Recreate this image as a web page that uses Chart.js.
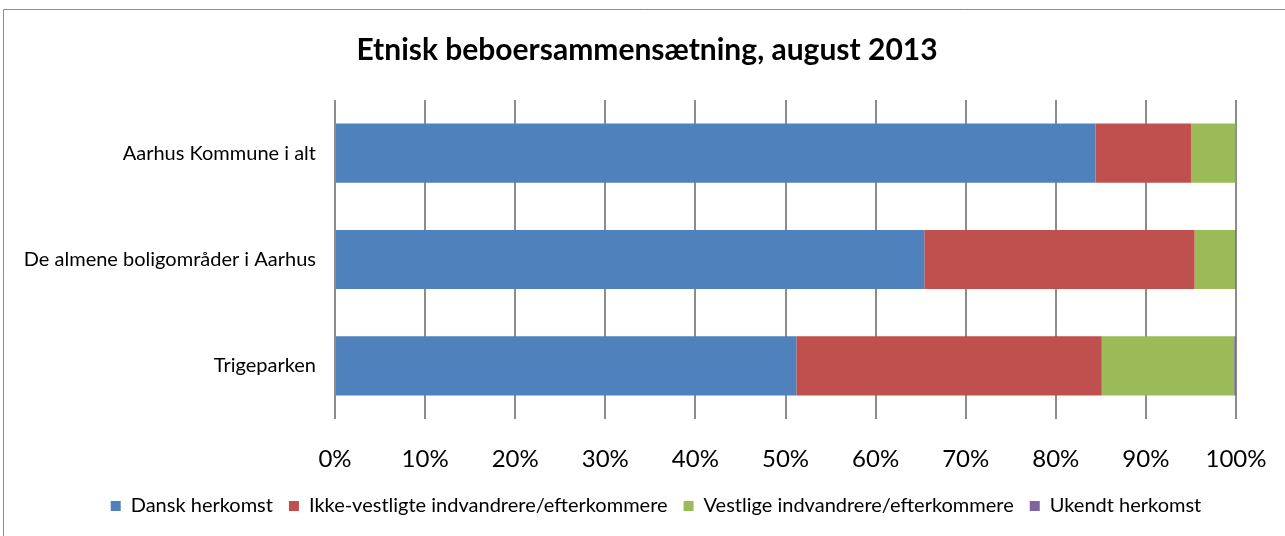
<!DOCTYPE html>
<html>
<head>
<meta charset="utf-8">
<script src="https://cdn.jsdelivr.net/npm/chart.js@4"></script>
<style>
  html, body { margin: 0; padding: 0; background: #fff; }
  #wrap { position: relative; width: 1285px; height: 536px; }
</style>
</head>
<body>
<div id="wrap"><canvas id="grafico" width="1285" height="536"></canvas></div>
<script>
const kategorier = ['Aarhus Kommune i alt', 'De almene boligområder i Aarhus', 'Trigeparken'];
const dansk = [84.4, 65.4, 51.2];
const ikkeVestlige = [10.6, 30.0, 33.9];
const vestlige = [4.95, 4.5, 14.7];
const ukendt = [0.05, 0.1, 0.2];
const tickTekster = ['0%', '10%', '20%', '30%', '40%', '50%', '60%', '70%', '80%', '90%', '100%'];

const fontNavn = 'Lato, "Open Sans", sans-serif';

// ramme rundt om diagrammet + flyt titel og forklaring lidt mod hoejre
const ramme = {
    id: 'ramme',
    afterLayout(chart) {
        chart.titleBlock.left += 58;
        chart.legend.left += 76;
    },
    afterDraw(chart) {
        const ctx = chart.ctx;
        ctx.save();
        ctx.strokeStyle = '#8c8c8c';
        ctx.lineWidth = 1;
        ctx.beginPath();
        ctx.moveTo(3.5, 536);
        ctx.lineTo(3.5, 9.5);
        ctx.lineTo(1285, 9.5);
        ctx.stroke();
        ctx.restore();
    }
};

new Chart(document.getElementById('grafico'), {
    type: 'bar',
    data: {
        labels: kategorier,
        datasets: [
            { label: 'Dansk herkomst', data: dansk, backgroundColor: '#4F81BD' },
            { label: 'Ikke-vestligte indvandrere/efterkommere', data: ikkeVestlige, backgroundColor: '#C0504D' },
            { label: 'Vestlige indvandrere/efterkommere', data: vestlige, backgroundColor: '#9BBB59' },
            { label: 'Ukendt herkomst', data: ukendt, backgroundColor: '#8064A2' }
        ]
    },
    options: {
        indexAxis: 'y',
        responsive: false,
        animation: false,
        datasets: { bar: { categoryPercentage: 1, barPercentage: 0.557, borderWidth: 0 } },
        layout: { padding: { left: 0, right: 49, top: 0, bottom: 10 } },
        plugins: {
            title: {
                display: true,
                text: 'Etnisk beboersammensætning, august 2013',
                color: '#000',
                font: { family: fontNavn, size: 30, weight: 'bold' },
                padding: { top: 32, bottom: 32 }
            },
            legend: {
                position: 'bottom',
                labels: {
                    color: '#000',
                    font: { family: fontNavn, size: 20 },
                    boxWidth: 10,
                    boxHeight: 10,
                    padding: 16
                }
            },
            tooltip: { enabled: false }
        },
        scales: {
            x: {
                stacked: true,
                min: 0,
                max: 100,
                ticks: {
                    stepSize: 10,
                    color: '#000',
                    padding: 26,
                    font: { family: fontNavn, size: 24 },
                    callback: (v, i) => tickTekster[i]
                },
                grid: { color: '#8c8c8c', lineWidth: 2, drawTicks: false },
                border: { display: false },
                afterFit(scale) {
                    scale.height = 61;
                    scale.paddingLeft = 0;
                    scale.paddingRight = 0;
                }
            },
            y: {
                stacked: true,
                ticks: {
                    color: '#000',
                    padding: 19,
                    font: { family: fontNavn, size: 20 }
                },
                grid: { display: false, drawTicks: false },
                border: { display: false },
                afterFit(scale) { scale.width = 335; }
            }
        }
    },
    plugins: [ramme]
});
</script>
</body>
</html>
